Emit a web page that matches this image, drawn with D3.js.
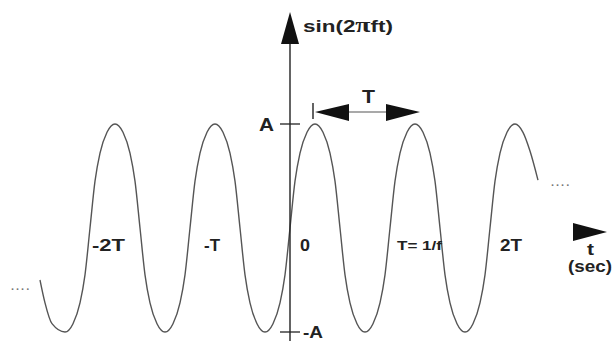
<!DOCTYPE html>
<html>
<head>
<meta charset="utf-8">
<script src="https://cdn.jsdelivr.net/npm/d3@7"></script>
<style>
  html, body { margin: 0; padding: 0; background: #fff; }
  svg { display: block; }
  text { font-family: "Liberation Sans", Arial, Helvetica, sans-serif; font-weight: bold; fill: #222; }
</style>
</head>
<body>
<svg id="chart" width="613" height="341"></svg>
<script>
// ---- data (time in units of T, value in units of A) ----
const curveT = [-2.5, -2.45, -2.38, -2.25, -2.17, -2.1, -2.05,
                -2, -1.95, -1.9, -1.83, -1.75, -1.67, -1.6, -1.55, -1.5, -1.45, -1.4, -1.33, -1.25, -1.17, -1.1, -1.05,
                -1, -0.95, -0.9, -0.83, -0.75, -0.67, -0.6, -0.55, -0.5, -0.45, -0.4, -0.33, -0.25, -0.17, -0.1, -0.05,
                0, 0.05, 0.1, 0.17, 0.25, 0.33, 0.4, 0.45, 0.5, 0.55, 0.6, 0.67, 0.75, 0.83, 0.9, 0.95,
                1, 1.05, 1.1, 1.17, 1.25, 1.33, 1.4, 1.45, 1.5, 1.55, 1.6, 1.67, 1.75, 1.83, 1.9, 1.95,
                2, 2.05, 2.1, 2.17, 2.25, 2.33, 2.4, 2.48];
const curveV = [-0.5, -0.72, -0.92, -1, -0.92, -0.72, -0.45,
                0, 0.45, 0.72, 0.92, 1, 0.92, 0.72, 0.45, 0, -0.45, -0.72, -0.92, -1, -0.92, -0.72, -0.45,
                0, 0.45, 0.72, 0.92, 1, 0.92, 0.72, 0.45, 0, -0.45, -0.72, -0.92, -1, -0.92, -0.72, -0.45,
                0, 0.45, 0.72, 0.92, 1, 0.92, 0.72, 0.45, 0, -0.45, -0.72, -0.92, -1, -0.92, -0.72, -0.45,
                0, 0.45, 0.72, 0.92, 1, 0.92, 0.72, 0.45, 0, -0.45, -0.72, -0.92, -1, -0.92, -0.72, -0.45,
                0, 0.45, 0.72, 0.92, 1, 0.92, 0.74, 0.46];
const timeTicks = [-2, -1, 0, 1, 2];
const timeLabels = ["-2T", "-T", "0", "T= 1/f", "2T"];
const ampTicks = [1, -1];
const ampLabels = ["A", "-A"];
const periodSpan = [0.25, 1.3];   // T arrow from peak to peak
const periodLabel = "T";
const yAxisTitle = ["sin(2", "\u03C0", "ft)"];
const xAxisTitle = ["t", "(sec)"];
const moreLabel = "....";

// ---- layout ----
const svg = d3.select("#chart");
const x = d3.scaleLinear().domain([-2.5, 2.5]).range([40, 540]);
const y = d3.scaleLinear().domain([-1, 1]).range([332, 124]);
const x0 = x(0);

function stretchText(sel, w) {
  return sel.attr("textLength", w).attr("lengthAdjust", "spacingAndGlyphs");
}

// sine-like curve
const pts = curveT.map((t, i) => [t, curveV[i]]);
svg.append("path")
  .datum(pts)
  .attr("fill", "none")
  .attr("stroke", "#555")
  .attr("stroke-width", 1.4)
  .attr("d", d3.line().x(d => x(d[0])).y(d => y(d[1])).curve(d3.curveMonotoneX));

// vertical axis
svg.append("line")
  .attr("x1", x0).attr("x2", x0).attr("y1", 40).attr("y2", 341)
  .attr("stroke", "#222").attr("stroke-width", 1.4);
svg.append("path")
  .attr("d", `M${x0},12 L${x0 - 9},44 L${x0 + 9},44 Z`)
  .attr("fill", "#111");

// amplitude ticks
const ampX = [259, 303];
const ampBase = [131, 338];
const ampW = [15, 20];
const ampSize = [18, 16];
ampTicks.forEach((v, i) => {
  svg.append("line")
    .attr("x1", x0 - 10).attr("x2", x0 + 10)
    .attr("y1", y(v)).attr("y2", y(v))
    .attr("stroke", "#222").attr("stroke-width", 1.3);
  stretchText(svg.append("text")
    .attr("x", ampX[i]).attr("y", ampBase[i])
    .attr("font-size", ampSize[i])
    .text(ampLabels[i]), ampW[i]);
});

// time labels next to rising zero crossings
const labelDx = [2, 14, 10, 7, 10];
const labelSize = [17, 17, 17, 12, 17];
const labelW = [33, 16, 10, 45, 22];
const labelBase = [251, 251, 251, 250, 251];
timeTicks.forEach((t, i) => {
  stretchText(svg.append("text")
    .attr("x", x(t) + labelDx[i]).attr("y", labelBase[i])
    .attr("font-size", labelSize[i])
    .text(timeLabels[i]), labelW[i]);
});

// y axis title
const yt = stretchText(svg.append("text").attr("x", x0 + 13).attr("y", 32).attr("font-size", 17), 90);
yt.append("tspan").text(yAxisTitle[0]);
yt.append("tspan").attr("font-family", "Liberation Serif").attr("font-size", 21).text(yAxisTitle[1]);
yt.append("tspan").text(yAxisTitle[2]);

// period arrow
const pa = x(periodSpan[0]), pb = x(periodSpan[1]), py = 112;
svg.append("line").attr("x1", pa - 2).attr("x2", pa - 2).attr("y1", py - 9).attr("y2", py + 7)
  .attr("stroke", "#222").attr("stroke-width", 1.4);
svg.append("line").attr("x1", pa + 30).attr("x2", pb - 30).attr("y1", py).attr("y2", py)
  .attr("stroke", "#555").attr("stroke-width", 1.2);
svg.append("path").attr("d", `M${pa},${py} L${pa + 34},${py - 8} L${pa + 34},${py + 9} Z`).attr("fill", "#111");
svg.append("path").attr("d", `M${pb},${py} L${pb - 34},${py - 8} L${pb - 34},${py + 9} Z`).attr("fill", "#111");
stretchText(svg.append("text").attr("x", 362).attr("y", 103)
  .attr("font-size", 18).text(periodLabel), 13);

// continuation dots
svg.append("text").attr("x", 11).attr("y", 290).attr("font-size", 11)
  .attr("letter-spacing", 2).attr("font-weight", "normal").style("fill", "#777").text(moreLabel);
svg.append("text").attr("x", 551).attr("y", 186).attr("font-size", 11)
  .attr("letter-spacing", 2).attr("font-weight", "normal").style("fill", "#777").text(moreLabel);

// t axis arrow head and title
svg.append("path").attr("d", "M573,223 L607,232 L573,241 Z").attr("fill", "#111");
stretchText(svg.append("text").attr("x", 587).attr("y", 255).attr("font-size", 17).text(xAxisTitle[0]), 7);
stretchText(svg.append("text").attr("x", 568).attr("y", 272).attr("font-size", 16).text(xAxisTitle[1]), 44);
</script>
</body>
</html>
